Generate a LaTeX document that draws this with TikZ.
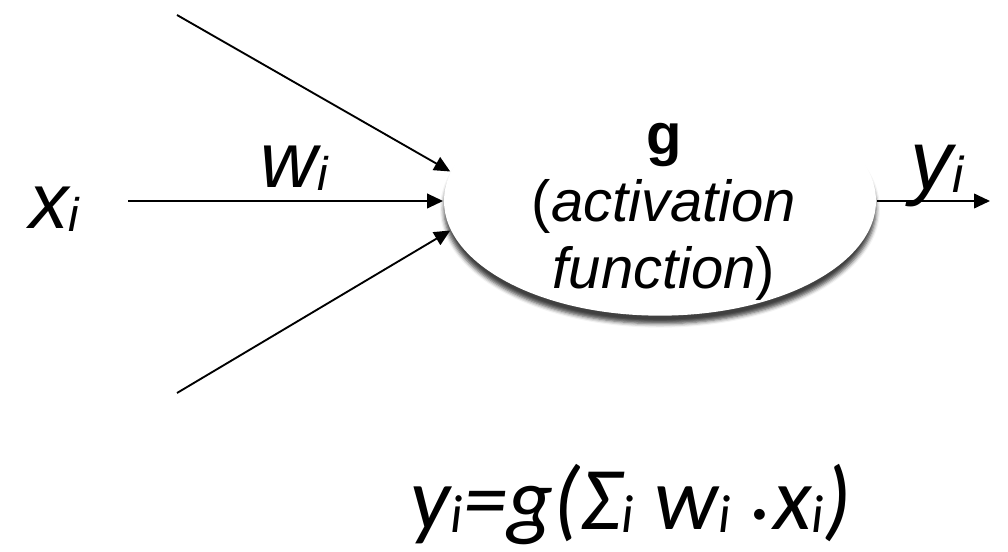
\documentclass[tikz,border=0pt]{standalone}
\usepackage{fontspec}
\setmainfont{Liberation Sans}
\newfontfamily\formulafont{Carlito}
\usetikzlibrary{shapes.geometric, shadows.blur, arrows.meta}
\newcommand{\lowidx}[1]{\raisebox{-0.03em}{\scalebox{0.6}{#1}}}

\begin{document}
\begin{tikzpicture}[x=0.75pt, y=-0.75pt, >={Triangle[length=12pt, width=11pt]}, line width=1.4pt,
	neuron/.style={ellipse, fill=white, minimum width=324pt, minimum height=172pt, inner sep=0pt,
		blur shadow={shadow xshift=0pt, shadow yshift=-6pt, shadow blur radius=3pt, shadow opacity=75}},
	fnlbl/.style={align=center, inner sep=0pt, font=\fontsize{43.5pt}{50pt}\selectfont},
	lbl/.style={inner sep=0pt, anchor=base, font=\fontsize{59pt}{60pt}\selectfont\itshape}]
	\useasboundingbox (0,0) rectangle (1008,552);
	
	% neuron
	\node[neuron] (act) at (660,201) {};
	\node[fnlbl] (actlbl) at (664,212) {\textbf{g}\\(\textit{activation}\\\textit{function})};
	
	% inputs and output
	\coordinate (in1) at (177,15);
	\coordinate (in2) at (128,201);
	\coordinate (in3) at (177,393);
	\coordinate (out) at (990,201);
	\draw[->] (in1) -- (act.172);
	\draw[->] (in2) -- (in2 -| act.west);
	\draw[->] (in3) -- (act.188);
	\draw[->] (act.east |- out) -- (out);
	
	% labels
	\node[lbl] (xi) at (54,229) {x\lowidx{i}};
	\node[lbl] (wi) at (294,188) {w\lowidx{i}};
	\node[lbl, font=\fontsize{63pt}{64pt}\selectfont\itshape] (yi) at (937,190) {y\lowidx{i}};
	
	% formula
	\node[inner sep=0pt, anchor=base west, font=\fontsize{67pt}{68pt}\formulafont\itshape] (eq) at (410,530)
		{y\lowidx{i}=g(Σ\lowidx{i} w\lowidx{i} \raisebox{0.12em}{.}x\lowidx{i})};
\end{tikzpicture}
\end{document}
